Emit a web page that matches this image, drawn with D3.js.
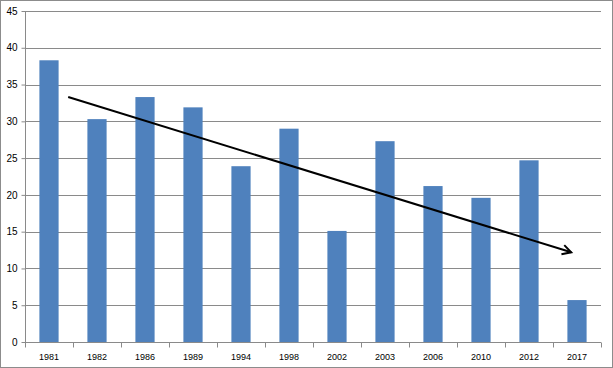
<!DOCTYPE html>
<html><head><meta charset="utf-8">
<script src="https://cdn.jsdelivr.net/npm/d3@7"></script>
<style>html,body{margin:0;padding:0;background:#fff;}svg{display:block;}</style>
</head><body>
<svg id="c" width="613" height="368"></svg>
<script>
const years = ["1981","1982","1986","1989","1994","1998","2002","2003","2006","2010","2012","2017"];
const values = [38.3,30.3,33.3,31.9,23.9,29.0,15.1,27.3,21.2,19.6,24.7,5.7];
const yTicks = [0,5,10,15,20,25,30,35,40,45];
// trend arrow: [position in category units from left edge, value]
const arrowStart = [0.9, 33.3];
const arrowEnd = [11.38, 12.2];

const svg = d3.select("#c");
const W = 613, H = 368;
const m = {left:25, right:12, top:11, bottom:26};
svg.append("rect").attr("x",0.5).attr("y",0.5).attr("width",W-1).attr("height",H-1)
  .attr("fill","#fff").attr("stroke","#8c8c8c").attr("stroke-width",1);

const x = d3.scaleBand().domain(years).range([m.left, W-m.right]).paddingInner(0.6).paddingOuter(0.3);
const y = d3.scaleLinear().domain([0,45]).range([H-m.bottom, m.top]);
const xc = d3.scaleLinear().domain([0, years.length]).range([m.left, W-m.right]);

// gridlines
svg.append("g").selectAll("line").data(yTicks.filter(d=>d>0)).join("line")
  .attr("x1",m.left).attr("x2",W-m.right)
  .attr("y1",d=>Math.round(y(d))+0.5).attr("y2",d=>Math.round(y(d))+0.5)
  .attr("stroke","#8a8a8a").attr("stroke-width",1);

// bars
svg.append("g").selectAll("rect").data(values).join("rect")
  .attr("x",(d,i)=>x(years[i])).attr("width",x.bandwidth())
  .attr("y",d=>y(d)).attr("height",d=>y(0)-y(d))
  .attr("fill","#4f81bd");

// y axis
const ya = svg.append("g").attr("transform",`translate(${m.left+0.5},0)`)
  .call(d3.axisLeft(y).tickValues(yTicks).tickSize(4).tickPadding(4).tickFormat(d3.format("d")));
ya.selectAll("path,line").attr("stroke","#8a8a8a");
ya.select(".domain").attr("d",`M0,${y(45)}V${y(0)}`);
ya.selectAll("text").attr("font-family","Liberation Sans, Arial, sans-serif").attr("font-size",10).attr("fill","#000");

// x axis
const xa = svg.append("g").attr("transform",`translate(0,${Math.round(y(0))+0.5})`);
xa.append("line").attr("x1",m.left).attr("x2",W-m.right).attr("stroke","#8a8a8a");
xa.selectAll("line.t").data(d3.range(years.length+1)).join("line").attr("class","t")
  .attr("x1",d=>Math.round(xc(d))+0.5).attr("x2",d=>Math.round(xc(d))+0.5)
  .attr("y1",0).attr("y2",5).attr("stroke","#8a8a8a");
xa.selectAll("text").data(years).join("text")
  .attr("x",d=>x(d)+x.bandwidth()/2).attr("y",17)
  .attr("text-anchor","middle").attr("font-family","Liberation Sans, Arial, sans-serif")
  .attr("font-size",9).attr("fill","#000").text(d=>d);

// arrow
const x1 = xc(arrowStart[0]), y1 = y(arrowStart[1]), x2 = xc(arrowEnd[0]), y2 = y(arrowEnd[1]);
svg.append("line").attr("x1",x1).attr("y1",y1).attr("x2",x2).attr("y2",y2)
  .attr("stroke","#000").attr("stroke-width",2);
const ang = Math.atan2(y2-y1, x2-x1), L = 10, a = 0.5;
svg.append("path")
  .attr("d",`M${x2-L*Math.cos(ang-a)},${y2-L*Math.sin(ang-a)}L${x2},${y2}L${x2-L*Math.cos(ang+a)},${y2-L*Math.sin(ang+a)}`)
  .attr("fill","none").attr("stroke","#000").attr("stroke-width",2).attr("stroke-linejoin","miter");
</script>
</body></html>
